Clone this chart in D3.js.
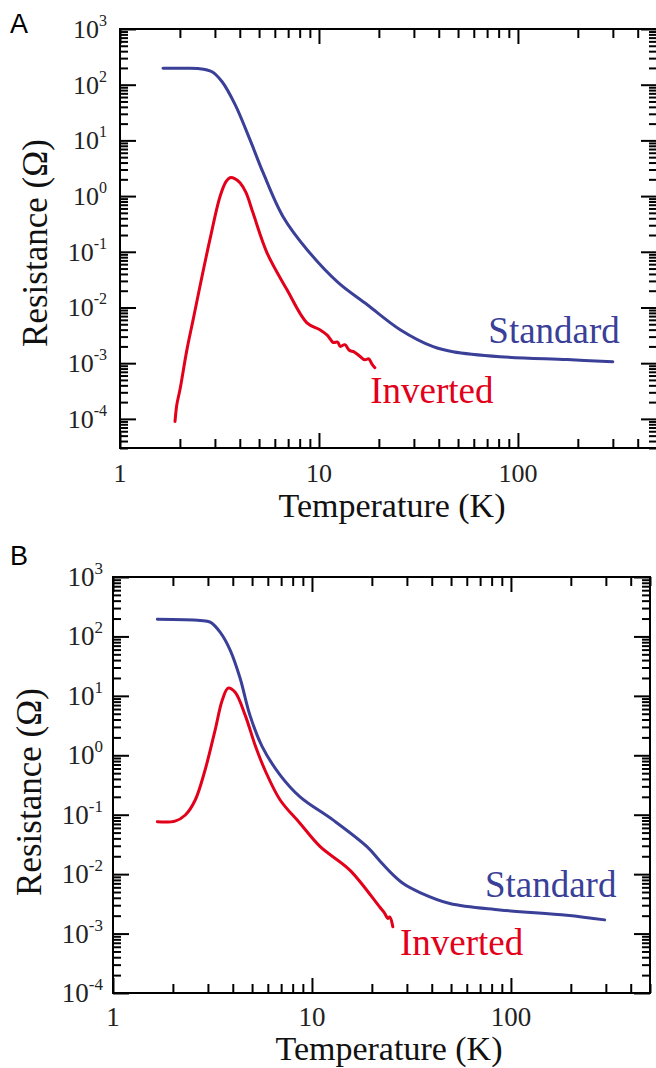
<!DOCTYPE html>
<html>
<head>
<meta charset="utf-8">
<script src="https://cdnjs.cloudflare.com/ajax/libs/d3/7.8.5/d3.min.js"></script>
<style>
  body { margin: 0; background: #fff; }
  svg { display: block; }
</style>
</head>
<body>
<svg id="chart" width="656" height="1068"></svg>
<script>
// ---- panel A (T in K, R in ohm) ----
const tempStandardA = [1.645, 2.0, 2.47, 2.9, 3.26, 3.79, 4.5, 5.24, 6.6, 8.72, 12.5, 17.5, 25.6, 37.5, 47.1, 81.3, 177, 300];
const resStandardA = [197, 197, 195, 171, 113, 43.8, 10.3, 2.63, 0.427, 0.109, 0.0279, 0.0112, 0.0040, 0.00198, 0.00161, 0.00131, 0.00116, 0.00106];

const tempInvertedA = [1.89, 1.93, 2.0, 2.17, 2.33, 2.52, 2.83, 3.18, 3.41, 3.57, 3.79, 4.01, 4.3, 4.66, 5.48, 6.9, 8.7, 10.1, 11.0, 11.8, 12.4, 12.8, 13.5, 14.2, 15.0, 16.1, 17.0, 17.8, 18.5, 19.1];
const resInvertedA = [9.0e-5, 1.8e-4, 3.3e-4, 1.75e-3, 6.0e-3, 0.0236, 0.165, 0.975, 1.82, 2.14, 2.04, 1.74, 1.15, 0.50, 0.096, 0.021, 5.3e-3, 4.0e-3, 3.2e-3, 2.35e-3, 2.4e-3, 2.0e-3, 2.15e-3, 1.7e-3, 1.6e-3, 1.32e-3, 1.15e-3, 1.2e-3, 9.5e-4, 8.3e-4];

// ---- panel B ----
const tempStandardB = [1.67, 2.74, 3.08, 3.46, 3.88, 4.35, 4.88, 5.62, 6.92, 8.71, 12.8, 18.9, 22.0, 25.5, 29.0, 34.9, 49.3, 88, 191, 296];
const resStandardB = [195, 186, 174, 117, 59, 20, 4.7, 1.4, 0.465, 0.2, 0.081, 0.029, 0.0165, 0.0098, 0.0068, 0.0049, 0.0032, 0.0025, 0.00204, 0.0017];

const tempInvertedB = [1.67, 2.05, 2.31, 2.59, 2.90, 3.26, 3.54, 3.79, 4.11, 4.62, 5.18, 5.81, 6.92, 8.7, 11.0, 15.5, 21.9, 23.0, 24.1, 24.6, 25.5];
const resInvertedB = [0.076, 0.078, 0.099, 0.177, 0.56, 2.65, 8.45, 13.5, 11.5, 4.7, 1.48, 0.56, 0.177, 0.072, 0.029, 0.0117, 2.8e-3, 2.3e-3, 1.8e-3, 1.9e-3, 1.3e-3];

// ---- tick labels ----
const xTickLabels = ['1', '10', '100'];
const yExponents = [3, 2, 1, 0, -1, -2, -3, -4];
const seriesNames = ['Standard', 'Inverted'];

const blue = '#3a3f98';
const red = '#e2001a';
const serif = '"Liberation Serif"';

const svg = d3.select('#chart');

const zip = (ts, rs) => ts.map((t, i) => ({ t: t, r: rs[i] }));

function drawPanel(p) {
  const x = d3.scaleLog().domain([1, 500]).range([p.left, p.right]);
  const y = d3.scaleLog().domain(p.yDomain).range([p.bottom, p.top]);
  const g = svg.append('g');

  const xt = x.ticks();
  const yt = y.ticks();
  const isMajor = (v) => Math.abs(Math.log10(v) - Math.round(Math.log10(v))) < 1e-6;
  const xMajor = xt.filter(isMajor);
  const xMinor = xt.filter((v) => !isMajor(v));
  const yMajor = yt.filter(isMajor);
  const yMinor = yt.filter((v) => !isMajor(v));

  // inward ticks on all four sides
  const axes = [
    [d3.axisBottom(x), p.bottom, 'x', -15, -9],
    [d3.axisTop(x), p.top, 'x', -15, -9],
    [d3.axisLeft(y), p.left, 'y', -16, -8],
    [d3.axisRight(y), p.right, 'y', -16, -8],
  ];
  axes.forEach(([ax, pos, dir, big, small]) => {
    const tr = dir === 'x' ? `translate(0,${pos})` : `translate(${pos},0)`;
    const maj = dir === 'x' ? xMajor : yMajor;
    const min = dir === 'x' ? xMinor : yMinor;
    g.append('g').attr('transform', tr)
      .call(ax.tickValues(maj).tickSize(big).tickFormat(''));
    g.append('g').attr('transform', tr)
      .call(ax.tickValues(min).tickSize(small).tickFormat(''));
  });
  g.selectAll('.domain').remove();
  g.selectAll('.tick text').remove();
  g.selectAll('.tick line').attr('stroke', '#000').attr('stroke-width', 2);

  g.append('rect')
    .attr('x', p.left).attr('y', p.top)
    .attr('width', p.right - p.left).attr('height', p.bottom - p.top)
    .attr('fill', 'none').attr('stroke', '#000').attr('stroke-width', 2);

  // y tick labels 10^n
  yExponents.forEach((e) => {
    const t = g.append('text')
      .attr('x', p.left - p.yLabelGap)
      .attr('y', y(Math.pow(10, e)) + 9)
      .attr('text-anchor', 'end')
      .style('font-family', serif)
      .style('font-size', p.tickFont + 'px')
      .attr('fill', '#222');
    t.append('tspan').text('10');
    t.append('tspan').text(e).style('font-size', Math.round(p.tickFont * 0.62) + 'px').attr('dy', -12);
  });

  // x tick labels
  g.selectAll('.xlab')
    .data(xTickLabels)
    .enter()
    .append('text')
    .text((d) => d)
    .attr('x', (d) => x(+d))
    .attr('y', p.xLabelY)
    .attr('text-anchor', 'middle')
    .style('font-family', serif)
    .style('font-size', p.tickFont + 'px')
    .attr('fill', '#222');

  g.append('text')
    .text('Temperature (K)')
    .attr('x', p.titleX)
    .attr('y', p.titleY)
    .attr('text-anchor', 'middle')
    .style('font-family', serif)
    .style('font-size', '34px')
    .attr('fill', '#111');

  g.append('text')
    .text('Resistance (Ω)')
    .attr('transform', `translate(${p.yTitleX}, ${p.yTitleY}) rotate(-90)`)
    .attr('text-anchor', 'middle')
    .style('font-family', serif)
    .style('font-size', '35px')
    .attr('fill', '#111');

  g.append('text')
    .text(p.letter)
    .attr('x', 10)
    .attr('y', p.letterY)
    .style('font-family', '"Liberation Sans"')
    .style('font-size', '27px')
    .attr('fill', '#000');

  const line = d3.line()
    .x((d) => x(d.t))
    .y((d) => y(d.r))
    .curve(d3.curveCatmullRom.alpha(0.5));

  const series = [
    { data: zip(p.tInv, p.rInv), color: red },
    { data: zip(p.tStd, p.rStd), color: blue },
  ];
  g.selectAll('.curve')
    .data(series)
    .enter()
    .append('path')
    .attr('d', (d) => line(d.data))
    .attr('fill', 'none')
    .attr('stroke', (d) => d.color)
    .attr('stroke-width', 3)
    .attr('stroke-linejoin', 'round')
    .attr('stroke-linecap', 'round');

  // curve names
  g.append('text')
    .text(seriesNames[0])
    .attr('x', x(p.stdLabel[0]))
    .attr('y', y(p.stdLabel[1]))
    .style('font-family', serif)
    .style('font-size', '37px')
    .attr('fill', blue);
  g.append('text')
    .text(seriesNames[1])
    .attr('x', x(p.invLabel[0]))
    .attr('y', y(p.invLabel[1]))
    .style('font-family', serif)
    .style('font-size', '37px')
    .attr('fill', red);
}

drawPanel({
  letter: 'A', letterY: 33,
  left: 120, right: 657, top: 29, bottom: 448,
  yDomain: [3e-5, 1000],
  tickFont: 26, yLabelGap: 13, xLabelY: 482,
  titleX: 392, titleY: 517,
  yTitleX: 47, yTitleY: 243,
  tStd: tempStandardA, rStd: resStandardA,
  tInv: tempInvertedA, rInv: resInvertedA,
  stdLabel: [71, 2.3e-3], invLabel: [18.1, 1.95e-4],
});

drawPanel({
  letter: 'B', letterY: 565,
  left: 113, right: 650, top: 577, bottom: 993,
  yDomain: [1e-4, 1000],
  tickFont: 27, yLabelGap: 10, xLabelY: 1026,
  titleX: 389, titleY: 1060,
  yTitleX: 41, yTitleY: 792,
  tStd: tempStandardB, rStd: resStandardB,
  tInv: tempInvertedB, rInv: resInvertedB,
  stdLabel: [74, 4.1e-3], invLabel: [27.7, 4.4e-4],
});
</script>
</body>
</html>
